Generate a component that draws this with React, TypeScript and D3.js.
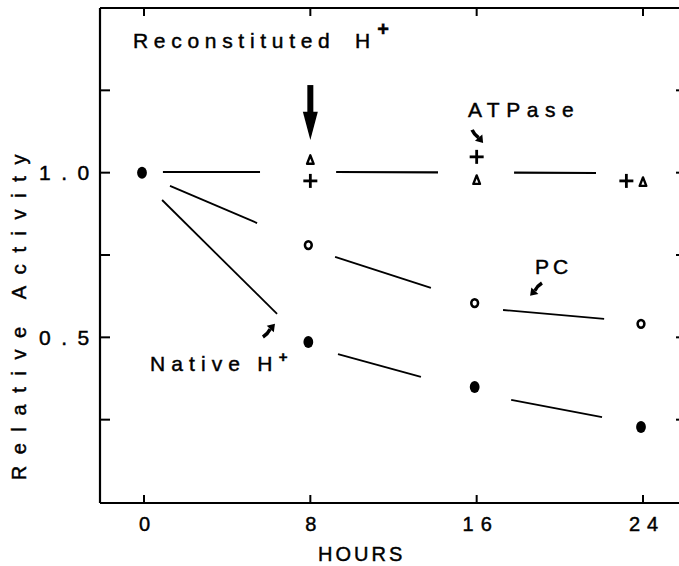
import React from "react";
import * as d3 from "d3";

// ---- data ----
const hourTicks = [0, 8, 16, 24];
const yTicks = [0.25, 0.5, 0.75, 1.0, 1.25];
const yTickLabels = ["", "0.5", "", "1.0", ""];

const nativeHours = [0, 8, 16, 24];
const nativeValues = [1.0, 0.486, 0.349, 0.228];

const pcHours = [8, 16, 24];
const pcValues = [0.78, 0.604, 0.541];

const plusHours = [8, 16, 23.2];
const plusValues = [0.975, 1.048, 0.975];

const triHours = [8, 16, 24];
const triValues = [1.039, 0.978, 0.972];

// line segments [hourStart, valueStart, hourEnd, valueEnd]
const atpaseSegments = [
  [0.91, 1.002, 5.58, 1.002],
  [9.24, 1.002, 14.14, 1.001],
  [17.8, 1.0, 21.74, 0.999],
];
const pcSegments = [
  [1.25, 0.96, 5.44, 0.847],
  [9.19, 0.744, 13.8, 0.65],
  [17.27, 0.583, 22.13, 0.556],
];
const nativeSegments = [
  [0.87, 0.917, 6.4, 0.571],
  [9.33, 0.449, 13.32, 0.38],
  [17.66, 0.31, 22.03, 0.258],
];

const FONT = "'Liberation Sans', Arial, sans-serif";

export default function App() {
  const W = 679;
  const H = 566;
  const left = 100;
  const top = 8;
  const bottom = 503;
  const right = 679;
  const x = d3.scaleLinear().domain([0, 24]).range([144, 643]);
  const y = d3.scaleLinear().domain([0, 1.5]).range([502, 8]);

  const seg = (s: number[], i: number, w: number) => (
    <line key={i} x1={x(s[0])} y1={y(s[1])} x2={x(s[2])} y2={y(s[3])} stroke="#000" strokeWidth={w} />
  );

  const smallArrow = (tx: number, ty: number, hx: number, hy: number, key: string) => {
    const x0 = x(tx), y0 = y(ty), x1 = x(hx), y1 = y(hy);
    const ang = Math.atan2(y1 - y0, x1 - x0);
    const L = 7, Wd = 4.8;
    const bx = x1 - L * Math.cos(ang), by = y1 - L * Math.sin(ang);
    const px = -Math.sin(ang), py = Math.cos(ang);
    const mx = (x0 + bx) / 2 + px * 1.5, my = (y0 + by) / 2 + py * 1.5;
    return (
      <g key={key}>
        <path d={`M${x0},${y0} Q${mx},${my} ${bx},${by}`} stroke="#000" strokeWidth={3.6} fill="none" />
        <path d={`M${x1},${y1} L${bx + px * Wd},${by + py * Wd} L${bx - px * Wd},${by - py * Wd} Z`} fill="#000" />
      </g>
    );
  };

  const st = (size: number, ls: number): React.CSSProperties => ({
    fontFamily: FONT, fontSize: size, letterSpacing: ls, stroke: "#000", strokeWidth: 0.45,
  });

  return (
    <svg width={W} height={H} style={{ position: "absolute", left: 0, top: 0, display: "block", background: "#fff" }}>
      <rect x={0} y={0} width={W} height={H} fill="#fff" />
      {/* frame */}
      <line x1={left} y1={top} x2={right} y2={top} stroke="#000" strokeWidth={2.2} />
      <line x1={left} y1={top} x2={left} y2={bottom} stroke="#000" strokeWidth={2.2} />
      <line x1={left} y1={bottom} x2={right} y2={bottom} stroke="#000" strokeWidth={2.2} />
      {/* x ticks */}
      {hourTicks.map((h) => (
        <g key={"xt" + h}>
          <line x1={x(h)} y1={bottom} x2={x(h)} y2={bottom - 8} stroke="#000" strokeWidth={2} />
          <line x1={x(h)} y1={top} x2={x(h)} y2={top + 8} stroke="#000" strokeWidth={2} />
          <text x={x(h) + 4} y={531} textAnchor="middle" style={st(20, 7)}>{String(h)}</text>
        </g>
      ))}
      {/* y ticks */}
      {yTicks.map((v, i) => (
        <g key={"yt" + v}>
          <line x1={left} y1={y(v)} x2={left + 10} y2={y(v)} stroke="#000" strokeWidth={2} />
          <line x1={right} y1={y(v)} x2={right - 3} y2={y(v)} stroke="#000" strokeWidth={2} />
          {yTickLabels[i] && (
            <text x={39} y={y(v) + 7.5} style={st(21, 10.5)}>{yTickLabels[i]}</text>
          )}
        </g>
      ))}
      {/* axis titles */}
      <text x={318} y={561} style={st(20, 3)}>HOURS</text>
      <text transform="translate(26,143) rotate(-90)" textAnchor="end" style={st(20, 11.6)}>Relative Activity</text>

      {/* line segments */}
      {atpaseSegments.map((s, i) => seg(s, i, 2.2))}
      {pcSegments.map((s, i) => seg(s, i, 1.8))}
      {nativeSegments.map((s, i) => seg(s, i, 1.8))}

      {/* markers */}
      {nativeHours.map((h, i) => (
        <ellipse key={"n" + i} cx={x(h) - 2} cy={y(nativeValues[i])} rx={4.9} ry={6} fill="#000" />
      ))}
      {pcHours.map((h, i) => (
        <ellipse key={"p" + i} cx={x(h) - 2} cy={y(pcValues[i])} rx={3.4} ry={3.9} fill="#fff" stroke="#000" strokeWidth={2.5} />
      ))}
      {plusHours.map((h, i) => (
        <g key={"pl" + i} stroke="#000" strokeWidth={2.8}>
          <line x1={x(h) - 7} y1={y(plusValues[i])} x2={x(h) + 7} y2={y(plusValues[i])} />
          <line x1={x(h)} y1={y(plusValues[i]) - 7} x2={x(h)} y2={y(plusValues[i]) + 7} />
        </g>
      ))}
      {triHours.map((h, i) => {
        const cx = x(h), cy = y(triValues[i]);
        return (
          <path key={"t" + i} d={`M${cx},${cy - 4.5} L${cx + 3.3},${cy + 4} L${cx - 3.3},${cy + 4} Z`} fill="#fff" stroke="#000" strokeWidth={2.4} strokeLinejoin="round" />
        );
      })}

      {/* big arrow */}
      <line x1={x(8)} y1={y(1.266)} x2={x(8)} y2={y(1.17)} stroke="#000" strokeWidth={6} />
      <path d={`M${x(8)},${y(1.099)} L${x(8) + 7.5},${y(1.185)} L${x(8) - 7.5},${y(1.185)} Z`} fill="#000" />

      {/* small arrows */}
      {smallArrow(15.78, 1.13, 16.31, 1.09, "a1")}
      {smallArrow(5.72, 0.501, 6.3, 0.541, "a2")}
      {smallArrow(19.14, 0.665, 18.57, 0.626, "a3")}

      {/* annotations */}
      <text x={x(-0.53)} y={y(1.379)} style={st(21, 5.7)}>Reconstituted</text>
      <text x={x(10.15)} y={y(1.379)} style={st(21, 0)}>H</text>
      <text x={x(11.5)} y={y(1.379) - 12} textAnchor="middle" style={{ ...st(20, 0), fontWeight: "bold" }}>+</text>
      <text x={x(15.58)} y={y(1.169)} style={st(21, 6.5)}>ATPase</text>
      <text x={x(18.81)} y={y(0.692)} style={st(21, 4)}>PC</text>
      <text x={x(0.29)} y={y(0.398)} style={st(21, 6.1)}>Native</text>
      <text x={x(5.45)} y={y(0.398)} style={st(21, 0)}>H</text>
      <text x={x(6.69)} y={y(0.398) - 9} textAnchor="middle" style={{ ...st(15, 0), fontWeight: "bold" }}>+</text>
    </svg>
  );
}
